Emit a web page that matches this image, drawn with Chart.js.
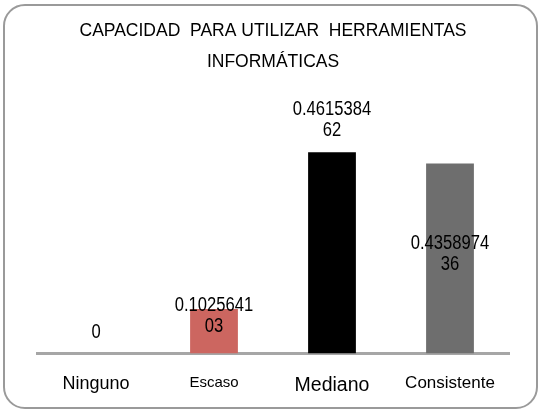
<!DOCTYPE html>
<html>
<head>
<meta charset="utf-8">
<script src="https://cdn.jsdelivr.net/npm/chart.js@4"></script>
<style>
  html, body { margin: 0; padding: 0; background: #fff; }
  #wrap { position: relative; width: 540px; height: 412px; }
  #marco {
    position: absolute; left: 3px; top: 4px; width: 531px; height: 401px;
    border: 2px solid #9a9a9a; border-radius: 22px; pointer-events: none;
  }
  canvas { position: absolute; left: 0; top: 0; }
</style>
</head>
<body>
<div id="wrap">
  <canvas id="grafico" width="540" height="412"></canvas>
  <div id="marco"></div>
</div>
<script>
const titulo = ['CAPACIDAD  PARA UTILIZAR  HERRAMIENTAS', 'INFORMÁTICAS']
const categorias = ['Ninguno', 'Escaso', 'Mediano', 'Consistente']
const valores = [0, 0.102564103, 0.461538462, 0.435897436]
const cores = ['#cc6660', '#cc6660', '#000000', '#6e6e6e']

// estilo das etiquetas (fora dos dados)
const fonte = "'Liberation Sans', Arial, sans-serif"
const tamTicks = [18, 15, 19.5, 17]
const modoEtiqueta = ['fora', 'fora', 'fora', 'meio']
const ajusteEtiqueta = [0, 39, 0, -6]

// quebra o numero como o Excel faz: 9 caracteres por linha
function quebrar(v) {
    const s = String(v)
    const linhas = []
    for (let i = 0; i < s.length; i += 9) linhas.push(s.slice(i, i + 9))
    return linhas
}

// fonte estreita (tipo Arial Narrow): comprime na horizontal
const estreita = 0.83

const etiquetas = {
    id: 'etiquetas',
    afterDatasetsDraw(chart) {
        const ctx = chart.ctx
        const meta = chart.getDatasetMeta(0)
        const tam = 20
        const passo = 21
        ctx.save()
        ctx.font = `${tam}px ${fonte}`
        ctx.fillStyle = '#000'
        ctx.textAlign = 'center'
        ctx.textBaseline = 'alphabetic'
        meta.data.forEach((barra, i) => {
            const linhas = quebrar(valores[i])
            const n = linhas.length
            let centro
            if (modoEtiqueta[i] === 'meio') {
                centro = (barra.y + barra.base) / 2
            } else {
                centro = barra.y - 23 - (n - 1) * passo / 2
            }
            centro += ajusteEtiqueta[i]
            linhas.forEach((t, k) => {
                const y = centro + (k - (n - 1) / 2) * passo
                ctx.save()
                ctx.translate(barra.x, y + 7)
                ctx.scale(estreita, 1)
                ctx.fillText(t, 0, 0)
                ctx.restore()
            })
        })
        ctx.restore()
    }
}

new Chart(document.getElementById('grafico'), {
    type: 'bar',
    data: {
        labels: categorias,
        datasets: [{
            data: valores,
            backgroundColor: cores,
            barPercentage: 0.405,
            categoryPercentage: 1
        }]
    },
    options: {
        responsive: false,
        animation: false,
        layout: { padding: { left: 37, right: 31, top: 0, bottom: -5 } },
        plugins: {
            legend: { display: false },
            tooltip: { enabled: false },
            title: {
                display: true,
                text: titulo,
                color: '#000',
                font: { family: fonte, size: 17.5, weight: 'normal', lineHeight: '31px' },
                padding: { top: 16, bottom: 14 }
            }
        },
        scales: {
            y: { display: false, min: 0, max: 0.6 },
            x: {
                grid: { display: false, drawTicks: false },
                border: { display: true, color: '#a6a6a6', width: 3 },
                ticks: {
                    color: '#000',
                    padding: 20,
                    font: c => ({ family: fonte, size: tamTicks[c.index] || 19.5 })
                }
            }
        }
    },
    plugins: [etiquetas]
})
</script>
</body>
</html>
